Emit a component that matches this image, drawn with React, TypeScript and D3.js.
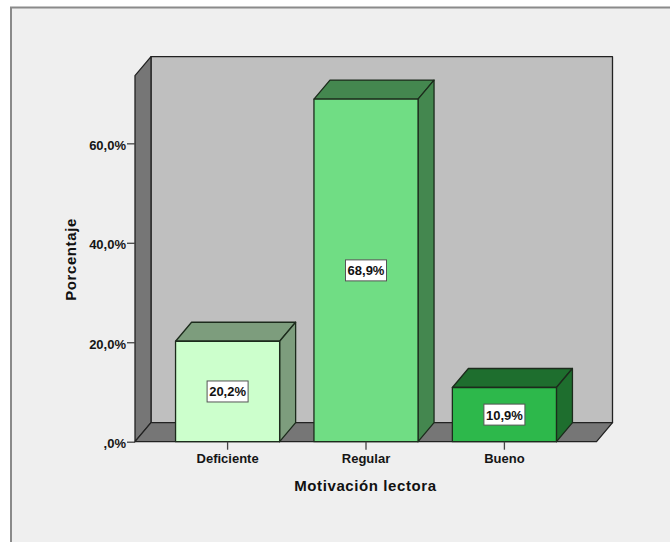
import * as d3 from "d3";
import { useEffect, useRef } from "react";

const categories = ["Deficiente", "Regular", "Bueno"];
const percentages = [20.2, 68.9, 10.9];
const yTicks = [0, 20, 40, 60];
const frontColors = ["#ccffcc", "#70dd84", "#2db84b"];
const sideColors = ["#7d9d7d", "#44874f", "#1e6e2e"];

const W = 670;
const H = 542;
const font = "'Liberation Sans', Arial, sans-serif";
const depthX = 16;
const depthY = 19;

const fmt = (v: number) => (v === 0 ? ",0%" : `${v.toFixed(1).replace(".", ",")}%`);

export default function App() {
  const ref = useRef<SVGSVGElement | null>(null);

  useEffect(() => {
    if (!ref.current) return;
    const svg = d3.select(ref.current);
    svg.selectAll("*").remove();

    const x = d3.scaleBand<string>().domain(categories).range([135, 597]).paddingInner(0.248).paddingOuter(0.293);
    const y = d3.scaleLinear().domain([0, 73.6]).range([441.7, 75.7]);
    const y0 = y(0);
    const yTop = y(73.6);
    const xL = 135;
    const xR = 596.5;
    const poly = (pts: number[][]) => pts.map((p) => p.join(",")).join(" ");

    // page + frame
    svg.append("rect").attr("width", W).attr("height", H).attr("fill", "#ffffff");
    svg.append("rect").attr("x", 11).attr("y", 7.5).attr("width", W + 20).attr("height", H + 20)
      .attr("fill", "#efefef").attr("stroke", "#8a8a8a").attr("stroke-width", 2);

    const walls = svg.append("g").attr("stroke", "#222").attr("stroke-width", 1.3).attr("stroke-linejoin", "round");
    // back wall
    walls.append("polygon")
      .attr("points", poly([[xL + depthX, yTop - depthY], [xR + depthX, yTop - depthY], [xR + depthX, y0 - depthY], [xL + depthX, y0 - depthY]]))
      .attr("fill", "#bfbfbf");
    // left wall
    walls.append("polygon")
      .attr("points", poly([[xL, yTop], [xL + depthX, yTop - depthY], [xL + depthX, y0 - depthY], [xL, y0]]))
      .attr("fill", "#767676");
    // floor
    walls.append("polygon")
      .attr("points", poly([[xL, y0], [xL + depthX, y0 - depthY], [xR + depthX, y0 - depthY], [xR, y0]]))
      .attr("fill", "#767676");

    // bars
    const bars = svg.append("g").selectAll("g").data(categories).enter().append("g")
      .attr("stroke", "#1c2b1c").attr("stroke-width", 1.3).attr("stroke-linejoin", "round");
    bars.append("polygon")
      .attr("points", (d, i) => {
        const l = x(d) ?? 0;
        const r = l + x.bandwidth();
        const t = y(percentages[i]);
        return poly([[l, t], [l + depthX, t - depthY], [r + depthX, t - depthY], [r, t]]);
      })
      .attr("fill", (_, i) => sideColors[i]);
    bars.append("polygon")
      .attr("points", (d, i) => {
        const r = (x(d) ?? 0) + x.bandwidth();
        const t = y(percentages[i]);
        return poly([[r, t], [r + depthX, t - depthY], [r + depthX, y0 - depthY], [r, y0]]);
      })
      .attr("fill", (_, i) => sideColors[i]);
    bars.append("rect")
      .attr("x", (d) => x(d) ?? 0)
      .attr("y", (_, i) => y(percentages[i]))
      .attr("width", x.bandwidth())
      .attr("height", (_, i) => y0 - y(percentages[i]))
      .attr("fill", (_, i) => frontColors[i]);

    // value labels
    const labels = svg.append("g").selectAll("g").data(categories).enter().append("g")
      .attr("transform", (d, i) => `translate(${(x(d) ?? 0) + x.bandwidth() / 2},${(y0 + y(percentages[i])) / 2})`);
    labels.append("rect").attr("x", -20.5).attr("y", -10.5).attr("width", 41).attr("height", 21)
      .attr("fill", "#fff").attr("stroke", "#555").attr("stroke-width", 1);
    labels.append("text").text((_, i) => fmt(percentages[i]))
      .attr("text-anchor", "middle").attr("y", 5)
      .attr("font-family", font).attr("font-weight", "bold").attr("font-size", 13).attr("fill", "#111");

    // axes
    const yAxis = svg.append("g").attr("transform", `translate(${xL},0)`)
      .call(d3.axisLeft(y).tickValues(yTicks).tickFormat((v) => fmt(+v)).tickSize(8).tickPadding(1));
    yAxis.select(".domain").remove();
    yAxis.selectAll(".tick text").attr("dy", "0.46em");
    const xAxis = svg.append("g").attr("transform", `translate(0,${y0})`)
      .call(d3.axisBottom(x).tickSize(8).tickSizeOuter(0).tickPadding(4));
    xAxis.select(".domain").remove();
    svg.selectAll(".tick line").attr("stroke", "#444").attr("stroke-width", 1.3);
    svg.selectAll(".tick text")
      .attr("font-family", font).attr("font-weight", "bold").attr("font-size", 13).attr("fill", "#151515");

    // axis titles
    svg.append("text").text("Motivación lectora")
      .attr("x", 365.5).attr("y", 491).attr("text-anchor", "middle")
      .attr("font-family", font).attr("font-weight", "bold").attr("font-size", 15).attr("letter-spacing", 0.6).attr("fill", "#111");
    svg.append("text").text("Porcentaje")
      .attr("transform", "translate(76,259.5) rotate(-90)").attr("text-anchor", "middle")
      .attr("font-family", font).attr("font-weight", "bold").attr("font-size", 15).attr("letter-spacing", 0.6).attr("fill", "#111");
  }, []);

  return <svg ref={ref} width={W} height={H} viewBox={`0 0 ${W} ${H}`} style={{ position: "fixed", left: 0, top: 0 }} />;
}
